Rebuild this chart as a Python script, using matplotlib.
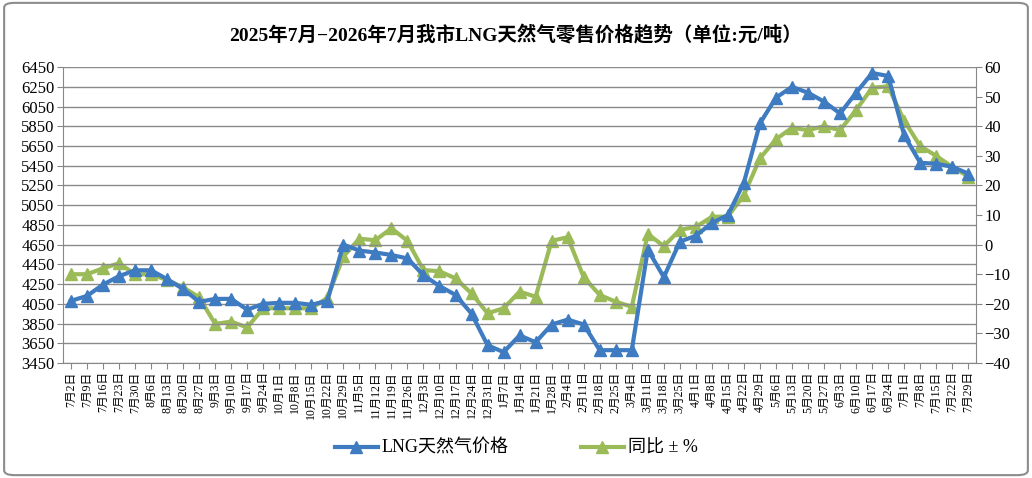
import numpy as np
import matplotlib.pyplot as plt
from matplotlib.patches import FancyBboxPatch

plt.rcParams['font.family'] = ['Liberation Serif', 'Noto Sans CJK SC', 'DejaVu Sans']

dates = ["7月2日", "7月9日", "7月16日", "7月23日", "7月30日", "8月6日", "8月13日", "8月20日",
         "8月27日", "9月3日", "9月10日", "9月17日", "9月24日", "10月1日", "10月8日", "10月15日",
         "10月22日", "10月29日", "11月5日", "11月12日", "11月19日", "11月26日", "12月3日",
         "12月10日", "12月17日", "12月24日", "12月31日", "1月7日", "1月14日", "1月21日",
         "1月28日", "2月4日", "2月11日", "2月18日", "2月25日", "3月4日", "3月11日", "3月18日",
         "3月25日", "4月1日", "4月8日", "4月15日", "4月22日", "4月29日", "5月6日", "5月13日",
         "5月20日", "5月27日", "6月3日", "6月10日", "6月17日", "6月24日", "7月1日", "7月8日",
         "7月15日", "7月22日", "7月29日"]

price = [4080, 4130, 4245, 4330, 4390, 4390, 4300, 4200, 4070, 4100, 4100, 3990, 4050,
         4060, 4060, 4040, 4080, 4650, 4590, 4570, 4545, 4510, 4340, 4230, 4140, 3950,
         3630, 3560, 3730, 3660, 3840, 3890, 3840, 3580, 3580, 3580, 4600, 4320, 4680,
         4740, 4870, 4950, 5280, 5880, 6140, 6250, 6190, 6100, 5980, 6190, 6390, 6360,
         5760, 5480, 5470, 5440, 5370]

yoy = [-10, -10, -8, -6.3, -10, -10, -12, -14.4, -17.8, -26.8, -26, -28, -21.5, -21.5,
       -21.5, -21.5, -18, -4, 2, 1.5, 5.5, 1.3, -8.6, -9, -11.4, -16.5, -23.2, -21.5,
       -15.9, -17.6, 1.3, 2.5, -11, -17, -19.3, -21, 3.6, -0.5, 5, 6, 9.4, 9.5, 16.8,
       29.2, 35.6, 39.5, 38.7, 40, 38.7, 45.5, 53, 53.5, 41.9, 33.3, 30, 26.3, 23]

blue = '#3E7BC1'
green = '#9BBB59'

fig = plt.figure(figsize=(10.32, 4.78), dpi=100)
fig.patches.append(FancyBboxPatch((0.004, 0.006), 0.992, 0.988,
                                  boxstyle='round,pad=0,rounding_size=0.01',
                                  transform=fig.transFigure, fill=False,
                                  edgecolor='#8c8c8c', linewidth=1.5))

ax = fig.add_axes([0.061, 0.2406, 0.885, 0.619])
x = np.arange(len(dates))

ax.plot(x, price, color=blue, lw=3, marker='^', ms=9, zorder=3, label='LNG天然气价格')
ax.set_ylim(3450, 6450)
ax.set_yticks(np.arange(3450, 6451, 200))
ax.set_xlim(-0.5, len(dates) - 0.5)
ax.set_xticks(x)
ax.set_xticklabels(dates, rotation=90, fontsize=8.5)
ax.grid(axis='y', color='#8a8a8a', lw=1)
ax.set_axisbelow(True)
ax.tick_params(axis='y', labelsize=12, length=4, color='#888888', pad=2)
ax.tick_params(axis='x', length=4, color='#888888', pad=2)
for s in ['top', 'right']:
    ax.spines[s].set_visible(False)
ax.spines['left'].set_color('#888888')
ax.spines['bottom'].set_color('#888888')

ax2 = ax.twinx()
ax2.plot(x, yoy, color=green, lw=3, marker='^', ms=9, zorder=2, label='同比 ± %')
ax2.set_ylim(-40, 60)
ax2.set_yticks(np.arange(-40, 61, 10))
ax2.set_yticklabels([str(v).replace('-', '−') for v in range(-40, 61, 10)])
ax2.tick_params(axis='y', labelsize=12, length=4, color='#888888', pad=2)
for s in ['top', 'left', 'bottom']:
    ax2.spines[s].set_visible(False)
ax2.spines['right'].set_color('#888888')
ax.set_zorder(ax2.get_zorder() + 1)
ax.patch.set_visible(False)

fig.text(0.5, 0.925, '2025年7月−2026年7月我市LNG天然气零售价格趋势（单位:元/吨）',
         ha='center', va='center', fontsize=14, fontweight='bold')

h1, l1 = ax.get_legend_handles_labels()
h2, l2 = ax2.get_legend_handles_labels()
fig.legend(h1 + h2, l1 + l2, loc='center', bbox_to_anchor=(0.5, 0.062), ncol=2,
           frameon=False, fontsize=13, columnspacing=4, handlelength=2.4, handletextpad=0.2)

plt.savefig('out.png', dpi=100)
